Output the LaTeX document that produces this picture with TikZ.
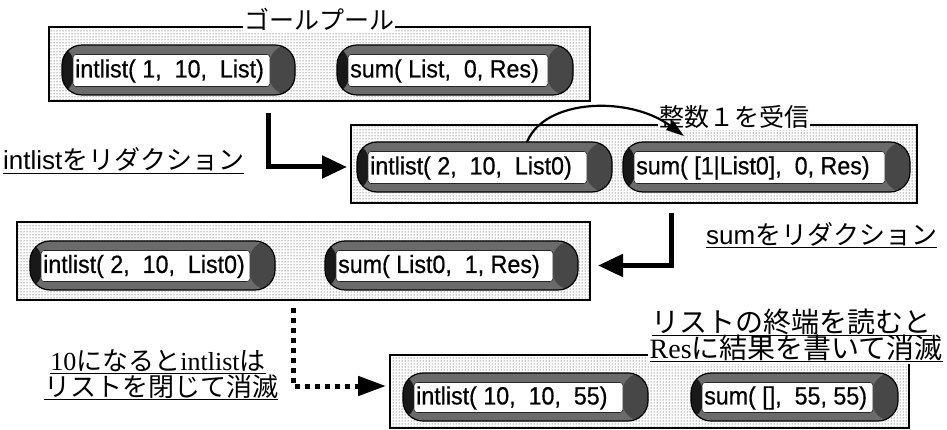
\documentclass[tikz,border=0pt]{standalone}
\usepackage{fontspec}
\setmainfont{Liberation Sans}
\newfontfamily\jp{Noto Sans CJK JP}
\newfontfamily\rmL{Liberation Serif}
\newfontfamily\pfont[FakeStretch=0.93, FakeBold=0.6]{Liberation Sans}
\usetikzlibrary{patterns,arrows.meta}
\newcommand\myul[1]{\setbox0\hbox{#1}\rlap{\rule[-4pt]{\wd0}{1.3pt}}\box0}
\tikzset{
  grp/.style={draw=black, line width=1.2pt, preaction={fill=white}, pattern=dots, pattern color=black!85, inner sep=0pt, outer sep=0pt},
  pillout/.style={draw=black, line width=1.2pt, fill=black!58, rounded corners=20pt, inner sep=0pt, outer sep=0pt,
    path picture={
      \fill[black!90] (path picture bounding box.south west) rectangle ([xshift=12pt]path picture bounding box.north west);
      \fill[black!72] ([xshift=-26pt]path picture bounding box.south east) rectangle (path picture bounding box.north east);
    }},
  pillin/.style={fill=white, draw=black!85, line width=0.6pt, rounded corners=3pt, inner sep=0pt, outer sep=0pt},
  ptxt/.style={anchor=west, inner sep=0pt, font=\fontsize{25}{28}\selectfont\pfont},
  jtitle/.style={inner sep=1pt, fill=white, font=\fontsize{25}{30}\selectfont\jp},
  lab/.style={inner sep=0pt, font=\fontsize{26}{30}\selectfont},
  biglab/.style={inner sep=2pt, font=\fontsize{28}{30}\selectfont},
  fatarrow/.style={line width=5pt, -{Triangle[length=25pt,width=22pt]}},
  dotarrow/.style={line width=5pt, dash pattern=on 5pt off 5pt, -{Triangle[length=28pt,width=19pt]}},
  curvearrow/.style={line width=2.2pt, -{Triangle[length=18pt,width=11pt]}},
}
\newcommand\grpbox[5]{\node[grp, minimum width={(#4-#2)*1pt}, minimum height={(#5-#3)*1pt}] (#1) at ({(#2+#4)/2},{(#3+#5)/2}) {};}
\newcommand\pill[6]{%
  \node[pillout, minimum width={(#4-#2)*1pt}, minimum height={(#5-#3)*1pt}] (#1) at ({(#2+#4)/2},{(#3+#5)/2}) {};
  \node[pillin, minimum width={(#4-#2-36)*1pt}, minimum height={(#5-#3-18)*1pt}] (#1in) at ({(#2+#4-14)/2},{(#3+#5+1)/2}) {};
  \node[ptxt] (#1t) at ({#2+13},{(#3+#5)/2+1}) {#6};
}
\begin{document}
\begin{tikzpicture}[x=1pt,y=-1pt]
\useasboundingbox (0,0) rectangle (947,430);

% group 1
\grpbox{g1}{49}{27}{590}{101}
\node[jtitle, anchor=base west] (t1) at (243,30) {ゴールプール};
\pill{p1a}{62}{45}{295}{95}{intlist( 1,~ 10,~ List)}
\pill{p1b}{337}{45}{573}{95}{sum( List,~ 0, Res)}

% group 2
\grpbox{g2}{351}{125}{917}{203}
\node[jtitle, anchor=base west] (t2) at (658,127) {整数１を受信};
\pill{p2a}{357}{142}{612}{192}{intlist( 2,~ 10,~ List0)}
\pill{p2b}{623}{142}{910}{192}{sum( [1|List0],~ 0, Res)}

% group 3
\grpbox{g3}{17}{222}{590}{300}
\pill{p3a}{30}{241}{275}{290}{intlist( 2,~ 10,~ List0)}
\pill{p3b}{325}{241}{578}{290}{sum( List0,~ 1, Res)}

% group 4
\grpbox{g4}{390}{355}{909}{428}
\pill{p4a}{403}{373}{648}{421}{intlist( 10,~ 10,~ 55)}
\pill{p4b}{691}{373}{898}{421}{sum( [],~ 55, 55)}

% labels
\node[lab, anchor=base west] (l1) at (3,170) {\myul{intlist{\jp をリダクション}}};
\node[lab, anchor=base west] (l2) at (706,244) {\myul{sum{\jp をリダクション}}};
\node[lab, anchor=base] (l3a) at (158,370) {\myul{{\rmL 10}{\jp になると}{\rmL intlist}{\jp は}}};
\node[lab, anchor=base] (l3b) at (161,396) {\myul{\jp リストを閉じて消滅}};
\node[biglab, fill=white, anchor=base east] (l4b) at (945,358) {\myul{{\rmL Res}{\jp に結果を書いて消滅}}};
\node[biglab, anchor=base east] (l4a) at (934,332) {\myul{\jp リストの終端を読むと}};

% connectors
\coordinate (a3e) at (386,386);
\draw[fatarrow] ([shift={(-51.5,12)}]g1.south) |- ([xshift=-10pt]p2a.west);
\draw[fatarrow] ([shift={(37,10)}]g2.south) |- ([xshift=20pt]p3b.east);
\draw[dotarrow] ([shift={(-10.5,8)}]g3.south) |- (a3e);
\coordinate (c1e) at (684,136);
\draw[curvearrow] ([xshift=42.5pt]p2a.north) .. controls (545,98) and (630,96) .. (c1e);
\end{tikzpicture}
\end{document}
